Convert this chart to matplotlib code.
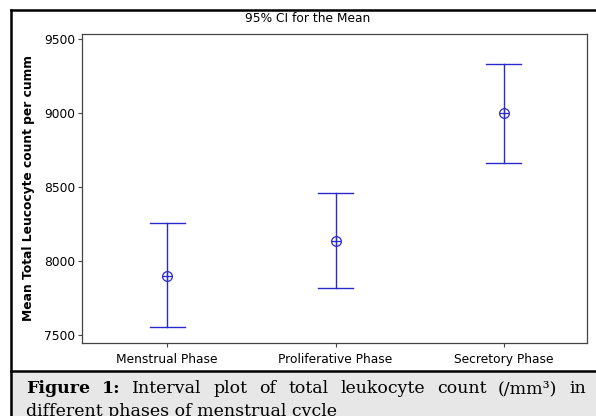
import matplotlib
matplotlib.use("Agg")
import matplotlib.pyplot as plt
from matplotlib.patches import Rectangle
from matplotlib.lines import Line2D

categories = ["Menstrual Phase", "Proliferative Phase", "Secretory Phase"]
means = [7900, 8133, 8997]
lower = [7553, 7815, 8660]
upper = [8259, 8457, 9331]
yticks = [7500, 8000, 8500, 9000, 9500]

W, H = 596, 416
fig = plt.figure(figsize=(W / 100, H / 100), dpi=100)
fig.patch.set_facecolor("white")

# caption background
fig.patches.append(Rectangle((10 / W, 0), 1, (H - 371) / H, transform=fig.transFigure,
                             facecolor="#e7e7e7", edgecolor="none", zorder=0))
# outer border lines
fig.add_artist(Line2D([11 / W, 11 / W], [0, 1 - 10 / H], transform=fig.transFigure, color="black", lw=1.8))
fig.add_artist(Line2D([11 / W, 1], [1 - 10 / H, 1 - 10 / H], transform=fig.transFigure, color="black", lw=1.8))
fig.add_artist(Line2D([11 / W, 1], [(H - 371) / H, (H - 371) / H], transform=fig.transFigure, color="black", lw=1.8))

ax = fig.add_axes([82 / W, (H - 343) / H, (587 - 82) / W, (343 - 34) / H])
col = "#2a2acc"
x = list(range(1, len(categories) + 1))
cap = 0.104
for xi, m, lo, hi in zip(x, means, lower, upper):
    ax.plot([xi, xi], [lo, hi], color=col, lw=1.0)
    ax.plot([xi - cap, xi + cap], [lo, lo], color=col, lw=1.0)
    ax.plot([xi - cap, xi + cap], [hi, hi], color=col, lw=1.0)
ax.plot(x, means, linestyle="none", marker="o", markersize=7, markerfacecolor="none",
        markeredgecolor=col, markeredgewidth=0.9)
ax.plot(x, means, linestyle="none", marker="+", markersize=7, markeredgecolor=col, markeredgewidth=0.9)

tfs = 8.8
ax.set_xlim(0.494, 3.494)
ax.set_ylim(7446, 9534)
ax.set_xticks(x)
ax.set_xticklabels(categories, fontsize=tfs)
ax.set_yticks(yticks)
ax.set_yticklabels([str(v) for v in yticks], fontsize=tfs)
ax.tick_params(direction="out", length=3, width=0.8, color="#444444", pad=2)
ax.tick_params(axis="x", pad=4)
for s in ax.spines.values():
    s.set_color("#444444")
    s.set_linewidth(0.9)
ax.set_ylabel("Mean Total Leucocyte count per cumm", fontsize=tfs, fontweight="bold", labelpad=6)
fig.text(308 / W, 1 - 19 / H, "95% CI for the Mean", ha="center", va="center", fontsize=tfs)

# caption, justified first line
fig.canvas.draw()
r = fig.canvas.get_renderer()
serif = "DejaVu Serif"
fs = 12.5
words = [("Figure", "bold"), ("1:", "bold"), ("Interval", "normal"), ("plot", "normal"),
         ("of", "normal"), ("total", "normal"), ("leukocyte", "normal"), ("count", "normal"),
         ("(/mm³)", "normal"), ("in", "normal")]
x0, x1 = 26, 586
texts = []
widths = []
for w_, wt in words:
    t = fig.text(0, 0, w_, fontsize=fs, fontweight=wt, family=serif)
    bb = t.get_window_extent(renderer=r)
    widths.append(bb.width)
    texts.append(t)
gap = (x1 - x0 - sum(widths)) / (len(words) - 1)
cx = x0
yb1 = 1 - 393 / H
for t, wd in zip(texts, widths):
    t.set_position((cx / W, yb1))
    t.set_va("baseline")
    cx += wd + gap
fig.text(x0 / W, 1 - 416 / H, "different phases of menstrual cycle", fontsize=fs, family=serif, va="baseline")

fig.savefig("out.png", dpi=100)
